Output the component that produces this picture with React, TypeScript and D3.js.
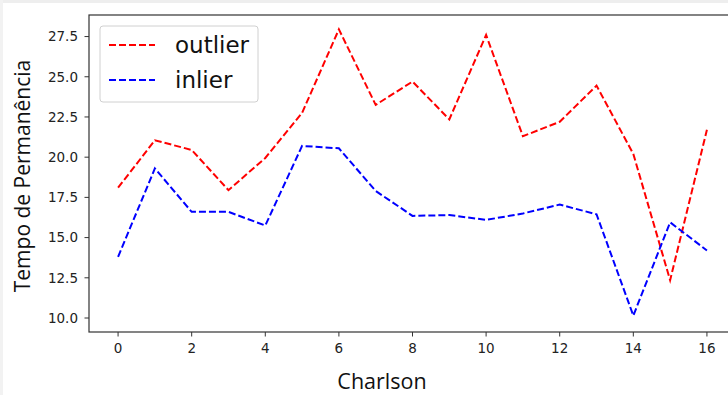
import * as d3 from "d3";

// Charlson index on x
const charlson = [0, 1, 2, 3, 4, 5, 6, 7, 8, 9, 10, 11, 12, 13, 14, 15, 16];

const outlierValues = [
  18.1, 21.05, 20.45, 17.95, 19.95, 22.75, 27.95, 23.25, 24.7, 22.35, 27.6,
  21.3, 22.2, 24.45, 20.2, 12.35, 21.7,
];

const inlierValues = [
  13.8, 19.3, 16.6, 16.6, 15.75, 20.7, 20.55, 17.9, 16.35, 16.4, 16.1, 16.5,
  17.05, 16.45, 10.15, 15.95, 14.2,
];

const xTicks = [0, 2, 4, 6, 8, 10, 12, 14, 16];
const yTicks = [10.0, 12.5, 15.0, 17.5, 20.0, 22.5, 25.0, 27.5];

const series = [
  { name: "outlier", color: "#ff0000", values: outlierValues },
  { name: "inlier", color: "#0000ff", values: inlierValues },
];

const width = 728;
const height = 395;

const plot = { left: 89, right: 736, top: 15, bottom: 332 };

const tickFont = "DejaVu Sans, sans-serif";
const labelFont = "Open Sans, sans-serif";

export default function App() {
  const x = d3.scaleLinear().domain([-0.79, 16.79]).range([plot.left, plot.right]);
  const y = d3.scaleLinear().domain([9.13, 28.84]).range([plot.bottom, plot.top]);

  const line = d3
    .line<number>()
    .x((_, i) => x(charlson[i]))
    .y((d) => y(d));

  return (
    <svg
      width={width}
      height={height}
      style={{ position: "fixed", left: 0, top: 0, background: "#ffffff" }}
    >
      {/* screenshot edges */}
      <rect x={0} y={0} width={width} height={3} fill="#eeeeee" />
      <rect x={0} y={0} width={3} height={height} fill="#f2f2f2" />

      {series.map((s) => (
        <path
          key={s.name}
          d={line(s.values) ?? ""}
          fill="none"
          stroke={s.color}
          strokeWidth={2}
          strokeDasharray="7 3"
        />
      ))}

      {/* spines */}
      <rect
        x={plot.left}
        y={plot.top}
        width={plot.right - plot.left}
        height={plot.bottom - plot.top}
        fill="none"
        stroke="#333333"
        strokeWidth={1.2}
      />

      {/* x axis */}
      {xTicks.map((t) => (
        <g key={t} transform={`translate(${x(t)}, ${plot.bottom})`}>
          <line y2={4.5} stroke="#333333" strokeWidth={1} />
          <text
            y={21}
            textAnchor="middle"
            fontFamily={tickFont}
            fontSize={13.5}
            fill="#222"
          >
            {t}
          </text>
        </g>
      ))}

      {/* y axis */}
      {yTicks.map((t) => (
        <g key={t} transform={`translate(${plot.left}, ${y(t)})`}>
          <line x2={-4.5} stroke="#333333" strokeWidth={1} />
          <text
            x={-11}
            dy="0.36em"
            textAnchor="end"
            fontFamily={tickFont}
            fontSize={13.5}
            fill="#222"
          >
            {t.toFixed(1)}
          </text>
        </g>
      ))}

      <text
        x={382}
        y={389}
        textAnchor="middle"
        fontFamily={labelFont}
        fontSize={21.5}
        fill="#111"
      >
        Charlson
      </text>
      <text
        transform="translate(30, 176) rotate(-90)"
        textAnchor="middle"
        fontFamily={labelFont}
        fontSize={21}
        fill="#111"
      >
        Tempo de Permanência
      </text>

      {/* legend */}
      <g>
        <rect
          x={100}
          y={26}
          width={158}
          height={76}
          rx={3}
          fill="#ffffff"
          fillOpacity={0.8}
          stroke="#d0d0d0"
          strokeWidth={1}
        />
        {series.map((s, i) => (
          <g key={s.name} transform={`translate(0, ${45 + i * 35})`}>
            <line
              x1={109}
              x2={155}
              stroke={s.color}
              strokeWidth={2}
              strokeDasharray="7 3"
            />
            <text
              x={175}
              dy="0.35em"
              fontFamily={tickFont}
              fontSize={23}
              fill="#111"
            >
              {s.name}
            </text>
          </g>
        ))}
      </g>
    </svg>
  );
}
